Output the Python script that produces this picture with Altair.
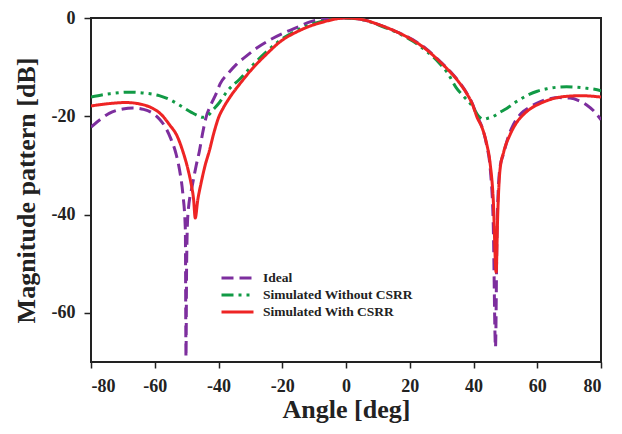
import altair as alt
import pandas as pd

# ---- data ----
series_names = ["Ideal", "Simulated Without CSRR", "Simulated With CSRR"]

ideal_angle = [-80, -77, -74.3, -70, -66.9, -63.5, -60.6, -58.5, -56.5, -55, -53.3, -52.2, -51.2,
               -50.4, -50.2, -50.0, -49.6, -48.1, -47, -46, -45, -43.9, -42.5, -40.8, -39.5, -37,
               -34.3, -31, -28, -24, -19.7, -15, -11.3, -6, 0, 5, 10.5, 15.5, 20.9, 25, 29.3, 33,
               35.7, 38, 39.7, 41, 42.9, 44.1, 45.3, 46.2, 46.9, 47.4, 48.3, 49.4, 51, 52.5, 55,
               57.7, 61, 64, 67, 70.3, 73, 75.5, 78, 80]
ideal_db = [-22.2, -20.6, -19.4, -18.5, -18.3, -18.6, -19.4, -20.6, -22.4, -24.5, -27.7, -31, -35.7,
            -43, -69, -50, -40, -33.7, -30, -27.1, -23.5, -20.2, -17.8, -15.5, -13.4, -11.3,
            -9.4, -7.6, -6.1, -4.5, -3.1, -1.8, -0.8, -0.15, 0, -0.3, -1.4, -2.7, -4.4, -6.2, -8.7, -11.1,
            -13.2, -15.4, -17.5, -19.8, -22.6, -25.8, -31, -42, -67, -42, -30.4, -27.7, -24, -21.7, -19.4,
            -18.1, -17, -16.4, -16.2, -16.3, -16.8, -17.7, -19.1, -20.7]

without_angle = [-80, -74, -68, -63, -58.6, -55, -52.3, -48.5, -46, -45, -43.5, -41.6, -39.7, -37.4,
                 -33.3, -29, -25, -21, -14.4, -7.1, 0, 5, 10.5, 15.5, 20.9, 25, 29.3, 32, 34.5, 37,
                 39.5, 41.8, 43.1, 44.5, 46, 48, 50.4, 53.5, 56.7, 60, 63, 66, 69.2, 72.5, 75.5, 78, 80]
without_db = [-16.1, -15.4, -15.1, -15.3, -15.8, -16.7, -17.7, -19.2, -20.0, -20.2, -19.9, -18.6, -17.2, -15.0,
              -12.4, -9.4, -6.9, -4.7, -2.2, -0.6, 0, -0.3, -1.5, -2.8, -4.7, -6.6, -9.2, -11.3, -14.1, -16,
              -17.8, -20.1, -20.6, -20.4, -20.1, -19.3, -18.4, -17.0, -15.8, -14.9, -14.4, -14.1, -14.0, -14.1,
              -14.3, -14.5, -14.8]

with_angle = [-80, -74, -69, -64, -60.6, -58, -55.4, -53, -51.2, -49.5, -48.6, -47.8, -47.3, -46.5,
              -45.5, -44.2, -42.9, -41.5, -40, -38.5, -36.6, -33.3, -29.1, -25, -21, -14.4, -7.1, 0,
              5, 10.5, 15.5, 20.9, 25, 29.3, 33, 35.7, 38, 39.7, 41, 42.9, 44.1, 45.2, 46.2, 47.1,
              47.6, 48.3, 49.5, 51.5, 53.5, 55.6, 58, 60.9, 64, 67.1, 70, 73.4, 77, 80]
with_db = [-17.9, -17.4, -17.2, -17.6, -18.4, -19.6, -21.7, -24, -27.1, -31, -33.7, -37, -40.7, -37,
           -33.7, -30, -27.1, -23.5, -20.3, -18.3, -16.3, -13.4, -10.1, -7.4, -5.0, -2.5, -0.8, 0,
           -0.3, -1.4, -2.7, -4.5, -6.3, -8.8, -11.2, -13.3, -15.5, -17.6, -20, -22.7, -25.5, -29.5, -37, -51.7,
           -40, -31, -27.2, -23.7, -21.3, -19.7, -18.4, -17.4, -16.6, -16.1, -15.9, -15.8, -15.9, -16.1]

x_ticks = [-80, -60, -40, -20, 0, 20, 40, 60, 80]
y_ticks = [0, -20, -40, -60]

colors = ["#7D2E9E", "#119A45", "#EE2424"]
dashes = [[12, 6], [12, 5, 3, 5, 3, 5], [1, 0]]

rows = []
for name, xs, ys in [(series_names[0], ideal_angle, ideal_db),
                     (series_names[1], without_angle, without_db),
                     (series_names[2], with_angle, with_db)]:
    for i, (a, d) in enumerate(zip(xs, ys)):
        rows.append({"series": name, "angle": a, "db": d, "order": i})
df = pd.DataFrame(rows)

FONT = "Liberation Serif"

chart = alt.Chart(df).mark_line(strokeWidth=3, interpolate="monotone", clip=True).encode(
    x=alt.X("angle:Q", scale=alt.Scale(domain=[-80, 80], nice=False, zero=False),
            axis=alt.Axis(values=x_ticks, title="Angle [deg]", labelExpr="'' + datum.value")),
    y=alt.Y("db:Q", scale=alt.Scale(domain=[-70, 0], nice=False, zero=False),
            axis=alt.Axis(values=y_ticks, title="Magnitude pattern [dB]", labelExpr="'' + datum.value")),
    color=alt.Color("series:N", scale=alt.Scale(domain=series_names, range=colors),
                    legend=alt.Legend(orient="none", legendX=129, legendY=253, title=None,
                                      symbolType="stroke", symbolSize=1024, symbolStrokeWidth=3,
                                      clipHeight=14, rowPadding=3, padding=0, labelOffset=8,
                                      labelFont=FONT, labelFontSize=13.5, labelFontWeight="bold",
                                      labelColor="#222", labelLimit=300)),
    strokeDash=alt.StrokeDash("series:N", scale=alt.Scale(domain=series_names, range=dashes)),
    order="order:Q",
).properties(
    width=510, height=344,
    padding={"left": 83, "top": 10, "right": 10, "bottom": 64},
    autosize=alt.AutoSizeParams(type="none"),
).configure_view(
    stroke="#222", strokeWidth=2
).configure_axis(
    domain=False, grid=False,
    labelFont=FONT, labelFontSize=18, labelFontWeight="bold", labelColor="#222",
    titleFont=FONT, titleFontSize=26, titleFontWeight="bold", titleColor="#222",
    tickColor="#222", tickWidth=1.5,
).configure_axisX(
    tickSize=6, labelPadding=9, titlePadding=1,
).configure_axisY(
    tickSize=7, labelPadding=9, titlePadding=12,
)

chart.save("out.html", embed_options={"renderer": "svg", "actions": False})
